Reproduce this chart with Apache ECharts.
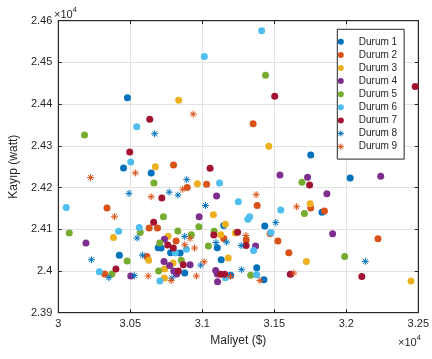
<!DOCTYPE html>
<html>
<head>
<meta charset="utf-8">
<script src="https://cdn.jsdelivr.net/npm/echarts@6/dist/echarts.min.js"></script>
<style>html,body{margin:0;padding:0;background:#fff;}#c{width:432px;height:359px;}</style>
</head>
<body>
<div id="c"></div>
<script>
// Data: [Maliyet ($), Kayip (watt)]
const durum1 = [[30480,24415],[30453,24247],[30645,24235],[31753,24278],[32027,24223],[31831,24141],[31434,24108],[31149,24109],[30424,24038],[30694,24056],[30714,24055],[30780,24044],[30846,24043],[31131,24027],[30878,23995],[31197,23990],[31378,24008],[31428,23979],[31104,24056]];
const durum2 = [[30800,24254],[31353,24353],[31030,24208],[30895,24200],[30338,24151],[31381,24157],[31753,24151],[31848,24144],[30631,24103],[30689,24103],[30818,24072],[31149,24078],[31305,24074],[31471,24090],[31525,24072],[31601,24044],[32220,24077],[30615,24035],[30322,23993]];
const durum3 = [[30836,24409],[31462,24299],[30674,24250],[30966,24209],[31077,24135],[31160,24112],[31749,24161],[30383,24080],[30762,24083],[31128,24087],[31229,24091],[31180,24031],[30628,24026],[30797,24019],[30738,24005],[30737,23983],[31723,24023],[32449,23976]];
const durum4 = [[31539,24230],[31731,24225],[32239,24227],[31865,24185],[31099,24180],[30978,24130],[31905,24089],[30192,24067],[30737,24076],[31370,24060],[30734,24023],[30773,24013],[30915,24015],[30802,24000],[30822,23993],[30503,23988],[31093,24001],[31104,23993],[31106,23974]];
const durum5 = [[31439,24469],[30182,24326],[30664,24211],[31692,24213],[31709,24138],[30730,24130],[30976,24106],[30076,24091],[30569,24092],[30830,24096],[31082,24095],[30924,24087],[30704,24067],[31042,24060],[30478,24024],[30854,24026],[30697,24000],[30372,23993],[31336,23990],[31989,24035]];
const durum6 = [[31014,24514],[31412,24576],[30545,24346],[30503,24261],[31120,24211],[30055,24152],[31250,24166],[31545,24146],[31329,24130],[31316,24124],[30419,24095],[30562,24104],[31476,24092],[31356,24049],[30890,24052],[30812,24044],[30285,23998],[30705,23976],[31160,23984],[31378,23991]];
const durum7 = [[32478,24442],[31503,24419],[30635,24364],[30496,24285],[31054,24246],[31745,24206],[30719,24175],[30662,24117],[31080,24086],[31245,24093],[31304,24061],[30760,24062],[30799,24055],[30868,24015],[30400,24005],[30834,24000],[31126,23992],[31155,23992],[31611,23992],[32108,23987]];
const durum8 = [[30669,24329],[30892,24219],[30491,24186],[30770,24189],[30831,24182],[31022,24157],[31510,24116],[30547,24079],[30878,24083],[31095,24068],[31169,24069],[31270,24061],[30230,24027],[30584,24038],[30989,24014],[31273,24003],[32132,24023],[30351,23984],[30528,23989],[30789,23983]];
const durum9 = [[30937,24376],[30224,24224],[30535,24235],[30645,24178],[30864,24196],[31374,24183],[31655,24154],[30390,24130],[30915,24078],[30878,24063],[30946,24055],[31303,24085],[31013,24022],[30624,23988],[30784,23977],[30959,23988],[31196,23987],[31400,23977],[31635,23995]];

const seriesNames = ['Durum 1','Durum 2','Durum 3','Durum 4','Durum 5','Durum 6','Durum 7','Durum 8','Durum 9'];
const seriesData = [durum1,durum2,durum3,durum4,durum5,durum6,durum7,durum8,durum9];
const colors = ['#0072BD','#D95319','#EDB120','#7E2F8E','#77AC30','#4DBEEE','#A2142F','#0072BD','#D95319'];

const xAxisName = 'Maliyet ($)';
const yAxisName = 'Kayıp (watt)';

const star = 'path://M10,0L10,20M0,10L20,10M2.93,2.93L17.07,17.07M2.93,17.07L17.07,2.93';
const TXT = '#262626';
const FONT = 'Liberation Sans, Arial, sans-serif';

const series = seriesData.map((d, i) => {
  const isStar = i >= 7;
  return {
    name: seriesNames[i],
    type: 'scatter',
    data: d,
    symbol: isStar ? star : 'circle',
    symbolSize: 7,
    itemStyle: isStar
      ? { color: 'rgba(0,0,0,0)', borderColor: colors[i], borderWidth: 1, opacity: 1 }
      : { color: colors[i], opacity: 1 },
    emphasis: { disabled: true },
    animation: false
  };
});

const legendData = seriesNames.map((n, i) => i >= 7
  ? { name: n, icon: star, itemStyle: { color: 'rgba(0,0,0,0)', borderColor: colors[i], borderWidth: 1 } }
  : { name: n, icon: 'circle' });

const fmt = v => String(+(v / 10000).toFixed(4));

const chart = echarts.init(document.getElementById('c'), null, { renderer: 'canvas' });
chart.setOption({
  backgroundColor: '#fff',
  animation: false,
  textStyle: { fontFamily: FONT },
  grid: { left: 53.3, right: 8.7, top: 20.7, bottom: 46.3, show: true, borderColor: TXT, borderWidth: 1, backgroundColor: '#fff' },
  xAxis: [{
    type: 'value', min: 30000, max: 32500, interval: 500,
    name: xAxisName, nameLocation: 'middle', nameGap: 21,
    nameTextStyle: { color: TXT, fontSize: 12, fontFamily: FONT },
    axisLine: { lineStyle: { color: TXT } },
    axisTick: { inside: true, length: 3.5, lineStyle: { color: TXT } },
    axisLabel: { formatter: fmt, color: TXT, fontSize: 11, margin: 6, fontFamily: FONT },
    splitLine: { show: true, lineStyle: { color: '#e2e2e2', width: 1 } }
  }, {
    type: 'value', position: 'top', min: 30000, max: 32500, interval: 500,
    axisLine: { show: true, lineStyle: { color: TXT } },
    axisTick: { inside: true, length: 3.5, lineStyle: { color: TXT } },
    axisLabel: { show: false }, splitLine: { show: false }
  }],
  yAxis: [{
    type: 'value', min: 23900, max: 24600, interval: 100,
    name: yAxisName, nameLocation: 'middle', nameGap: 31, nameRotate: 90,
    nameTextStyle: { color: TXT, fontSize: 12, fontFamily: FONT },
    axisLine: { show: true, lineStyle: { color: TXT } },
    axisTick: { show: true, inside: true, length: 3.5, lineStyle: { color: TXT } },
    axisLabel: { formatter: fmt, color: TXT, fontSize: 11, margin: 6, fontFamily: FONT },
    splitLine: { show: true, lineStyle: { color: '#e2e2e2', width: 1 } }
  }, {
    type: 'value', position: 'right', min: 23900, max: 24600, interval: 100,
    axisLine: { show: true, lineStyle: { color: TXT } },
    axisTick: { show: true, inside: true, length: 3.5, lineStyle: { color: TXT } },
    axisLabel: { show: false }, splitLine: { show: false }
  }],
  legend: {
    orient: 'vertical', left: 337.3, top: 29.3,
    padding: [6, 7, 6, 0],
    itemWidth: 26, itemHeight: 6, itemGap: 0.1,
    backgroundColor: '#fff', borderColor: TXT, borderWidth: 1, borderRadius: 0,
    textStyle: { color: TXT, fontSize: 10, lineHeight: 13, fontFamily: FONT, padding: [0, 0, 0, 0] },
    data: legendData
  },
  graphic: [
    { type: 'text', left: 54, top: 9, style: { text: '×10', fill: TXT, font: '11px ' + FONT } },
    { type: 'text', left: 72.5, top: 5.5, style: { text: '4', fill: TXT, font: '8px ' + FONT } },
    { type: 'text', left: 398, top: 337.5, style: { text: '×10', fill: TXT, font: '11px ' + FONT } },
    { type: 'text', left: 416.5, top: 334, style: { text: '4', fill: TXT, font: '8px ' + FONT } }
  ],
  series: series
});
</script>
</body>
</html>
